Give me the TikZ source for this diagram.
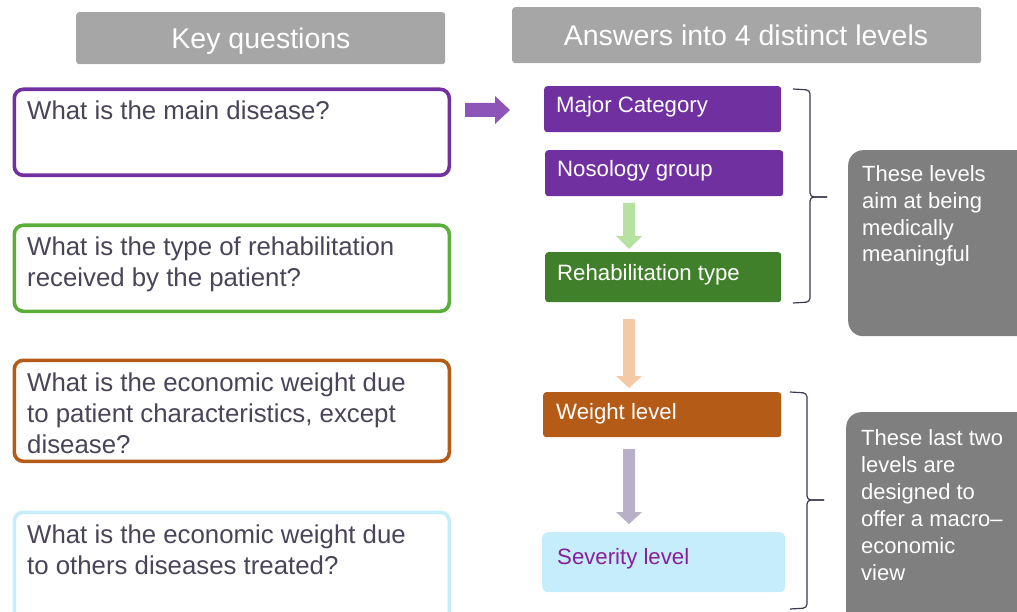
\documentclass[tikz,border=0pt]{standalone}
\usepackage{fontspec}
\setmainfont{Liberation Sans}
\definecolor{purp}{HTML}{7030A0}
\definecolor{purparrow}{HTML}{8E55B8}
\definecolor{qgreen}{HTML}{5AAE3A}
\definecolor{dgreen}{HTML}{41802B}
\definecolor{brown}{HTML}{B35B17}
\definecolor{lblue}{HTML}{C5EDFB}
\definecolor{hgray}{HTML}{A6A6A6}
\definecolor{ngray}{HTML}{7F7F7F}
\definecolor{qtextc}{HTML}{4A4458}
\definecolor{bracec}{HTML}{3B3850}
\definecolor{sevtext}{HTML}{8A1E9B}
\definecolor{agreen}{HTML}{B7E1A1}
\definecolor{apeach}{HTML}{F4C9A5}
\definecolor{alav}{HTML}{B7B0C7}
\begin{document}
\begin{tikzpicture}[x=1pt,y=-1pt,
  header/.style={fill=hgray, rounded corners=3pt, anchor=north west, inner sep=0pt},
  headtext/.style={text=white, font=\fontsize{28.5}{34}\selectfont, anchor=base, inner sep=0pt},
  qbox/.style={draw, line width=3.6pt, rounded corners=9pt, anchor=north west, inner sep=0pt, fill=white},
  % multi-line nodes: the base anchor sits on the last line
  qtext/.style={text=qtextc, font=\fontsize{25.8}{31}\selectfont, align=left, anchor=base west, inner sep=0pt},
  lvl/.style={rounded corners=3pt, anchor=north west, inner sep=0pt},
  lvltext/.style={text=white, font=\fontsize{22.2}{26}\selectfont, anchor=base west, inner sep=0pt},
  note/.style={fill=ngray, rounded corners=15pt, anchor=north west, inner sep=0pt},
  notetext/.style={text=white, font=\fontsize{22}{27}\selectfont, align=left, anchor=base west, inner sep=0pt},
  bracepath/.style={draw=bracec, line width=1.2pt, rounded corners=4pt},
]
\useasboundingbox (0,0) rectangle (1017,612);

% column headers
\node[header, minimum width=369, minimum height=52] (h1) at (76,12) {};
\node[headtext] (h1t) at (261,49) {Key questions};
\node[header, minimum width=469, minimum height=56] (h2) at (512,7) {};
\node[headtext] (h2t) at (746,46) {Answers into 4 distinct levels};

% key questions
\node[qbox, draw=purp, minimum width=435, minimum height=86] (q1) at (12.5,87.5) {};
\node[qtext] (q1t) at (27,120) {What is the main disease?};
\node[qbox, draw=qgreen, minimum width=435, minimum height=86] (q2) at (12.5,223.5) {};
\node[qtext] (q2t) at (27,287) {What is the type of rehabilitation\\received by the patient?};
\node[qbox, draw=brown, minimum width=435, minimum height=101] (q3) at (12.5,358.5) {};
\node[qtext] (q3t) at (27,453) {What is the economic weight due\\to patient characteristics, except\\disease?};
\node[qbox, draw=lblue, minimum width=435, minimum height=120] (q4) at (12.5,510.5) {};
\node[qtext] (q4t) at (27,574) {What is the economic weight due\\to others diseases treated?};

% levels
\node[lvl, fill=purp, minimum width=237, minimum height=46] (l1) at (544,86) {};
\node[lvltext] (l1t) at (556,113) {Major Category};
\node[lvl, fill=purp, minimum width=238, minimum height=46] (l2) at (545,150) {};
\node[lvltext] (l2t) at (557,177) {Nosology group};
\node[lvl, fill=dgreen, minimum width=236, minimum height=50] (l3) at (545,252) {};
\node[lvltext] (l3t) at (557,280) {Rehabilitation type};
\node[lvl, fill=brown, minimum width=238, minimum height=45] (l4) at (543,392) {};
\node[lvltext] (l4t) at (556,419) {Weight level};
\node[lvl, fill=lblue, rounded corners=6pt, minimum width=243, minimum height=60] (l5) at (542,532) {};
\node[lvltext, text=sevtext] (l5t) at (557,564) {Severity level};

% block arrows
\fill[purparrow] (465,103) -- (495,103) -- (495,96) -- (510,110) -- (495,124) -- (495,117) -- (465,117) -- cycle;
\newcommand\downarrowblock[4]{%
  \fill[#4] (623,#1) -- (635,#1) -- (635,#2) -- (642,#2) -- (629,#3) -- (616,#2) -- (623,#2) -- cycle;}
\downarrowblock{203}{236}{249}{agreen}
\downarrowblock{319}{376}{388}{apeach}
\downarrowblock{449}{512}{524}{alav}

% braces
\draw[bracepath] (793,89) -- (810,90) -- (810,197) -- (827,197);
\draw[bracepath] (827,197) -- (810,197) -- (810,302) -- (793,303);
\draw[bracepath] (790,392) -- (807,393) -- (807,500) -- (824,500);
\draw[bracepath] (824,500) -- (807,500) -- (807,608) -- (790,609);

% remarks
\node[note, minimum width=200, minimum height=186] (n1) at (848,150) {};
\node[notetext] (n1t) at (862,262) {These levels\\aim at being\\medically\\meaningful};
\node[note, minimum width=200, minimum height=230] (n2) at (846,412) {};
\node[notetext] (n2t) at (861,580) {These last two\\levels are\\designed to\\offer a macro--\\economic\\view};
\end{tikzpicture}
\end{document}
